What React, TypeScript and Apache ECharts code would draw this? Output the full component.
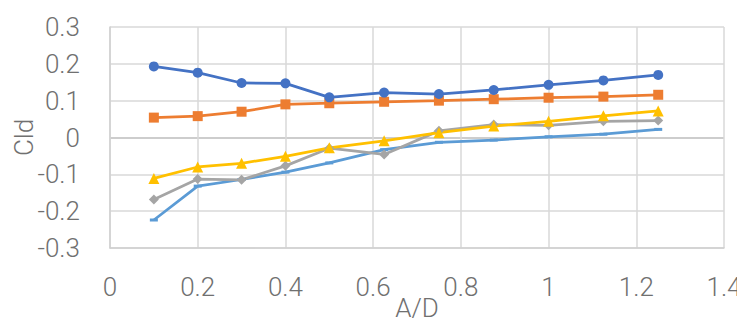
import React, { useEffect, useRef } from "react";
import * as echarts from "echarts";

// Spacing ratio A/D (x) and the section's coefficient Cld for five configurations
const ratioAD = [0.1, 0.2, 0.3, 0.4, 0.5, 0.625, 0.75, 0.875, 1.0, 1.125, 1.25];
const seriesCircle = [0.193, 0.176, 0.148, 0.147, 0.109, 0.122, 0.118, 0.129, 0.143, 0.155, 0.170];
const seriesSquare = [0.054, 0.058, 0.070, 0.090, 0.093, 0.097, 0.100, 0.104, 0.108, 0.111, 0.116];
const seriesDiamond = [-0.168, -0.113, -0.115, -0.077, -0.029, -0.046, 0.018, 0.035, 0.033, 0.044, 0.046];
const seriesTriangle = [-0.111, -0.080, -0.070, -0.051, -0.028, -0.009, 0.013, 0.031, 0.044, 0.059, 0.072];
const seriesDash = [-0.224, -0.132, -0.114, -0.094, -0.069, -0.033, -0.013, -0.007, 0.002, 0.009, 0.022];

const xTicks = { min: 0, max: 1.4, interval: 0.2 };
const yTicks = { min: -0.3, max: 0.3, interval: 0.1 };

const FONT = "Roboto, 'Open Sans', sans-serif";
const TEXT = "#707070";

const pair = (ys: number[]) => ratioAD.map((x, i) => [x, ys[i]]);

export default function App() {
  const ref = useRef<HTMLDivElement>(null);

  useEffect(() => {
    if (!ref.current) return;
    const chart = echarts.init(ref.current, undefined, { renderer: "svg" });

    const line = (data: number[], color: string, symbol: string, size: any) => ({
      type: "line",
      data: pair(data),
      symbol,
      symbolSize: size,
      showSymbol: true,
      lineStyle: { color, width: 2.75 },
      itemStyle: { color },
      z: 3,
    });

    chart.setOption({
      animation: false,
      backgroundColor: "#ffffff",
      grid: { left: 110, right: 21, top: 27, bottom: 76, outerBoundsMode: "none", containLabel: false },
      xAxis: {
        type: "value",
        min: xTicks.min,
        max: xTicks.max,
        interval: xTicks.interval,
        name: "A/D",
        nameLocation: "middle",
        nameGap: 47,
        nameMoveOverlap: false,
        nameTextStyle: { fontFamily: FONT, fontWeight: 300, fontSize: 26, color: TEXT },
        axisLine: { show: true, onZero: false, lineStyle: { color: "#D0D0D0", width: 1.5 } },
        axisTick: { show: false },
        axisLabel: {
          margin: 26,
          fontFamily: FONT,
          fontWeight: 300,
          fontSize: 26,
          color: TEXT,
          formatter: (v: number) => String(Math.round(v * 10) / 10),
        },
        splitLine: { show: true, lineStyle: { color: "#D9D9D9", width: 1.5 } },
      },
      yAxis: {
        type: "value",
        min: yTicks.min,
        max: yTicks.max,
        interval: yTicks.interval,
        name: "Cld",
        nameLocation: "middle",
        nameGap: 73,
        nameMoveOverlap: false,
        nameTextStyle: { fontFamily: FONT, fontWeight: 300, fontSize: 26, color: TEXT },
        axisLine: { show: true, lineStyle: { color: "#D0D0D0", width: 1.5 } },
        axisTick: { show: false },
        axisLabel: {
          margin: 30,
          fontFamily: FONT,
          fontWeight: 300,
          fontSize: 26,
          color: TEXT,
          formatter: (v: number) => String(Math.round(v * 10) / 10),
        },
        splitLine: {
          show: true,
          lineStyle: {
            color: ["#D9D9D9", "#D9D9D9", "#D9D9D9", "#BDBDBD", "#D9D9D9", "#D9D9D9", "#D9D9D9"],
            width: 1.5,
          },
        },
      },
      series: [
        line(seriesDash, "#5B9BD5", "rect", [8, 3]),
        line(seriesDiamond, "#A5A5A5", "diamond", 10),
        line(seriesTriangle, "#FFC000", "triangle", 11),
        line(seriesSquare, "#ED7D31", "rect", 10),
        line(seriesCircle, "#4472C4", "circle", 10),
      ],
    });

    return () => chart.dispose();
  }, []);

  return <div ref={ref} style={{ width: 745, height: 324, marginLeft: -8, marginTop: -8 }} />;
}
